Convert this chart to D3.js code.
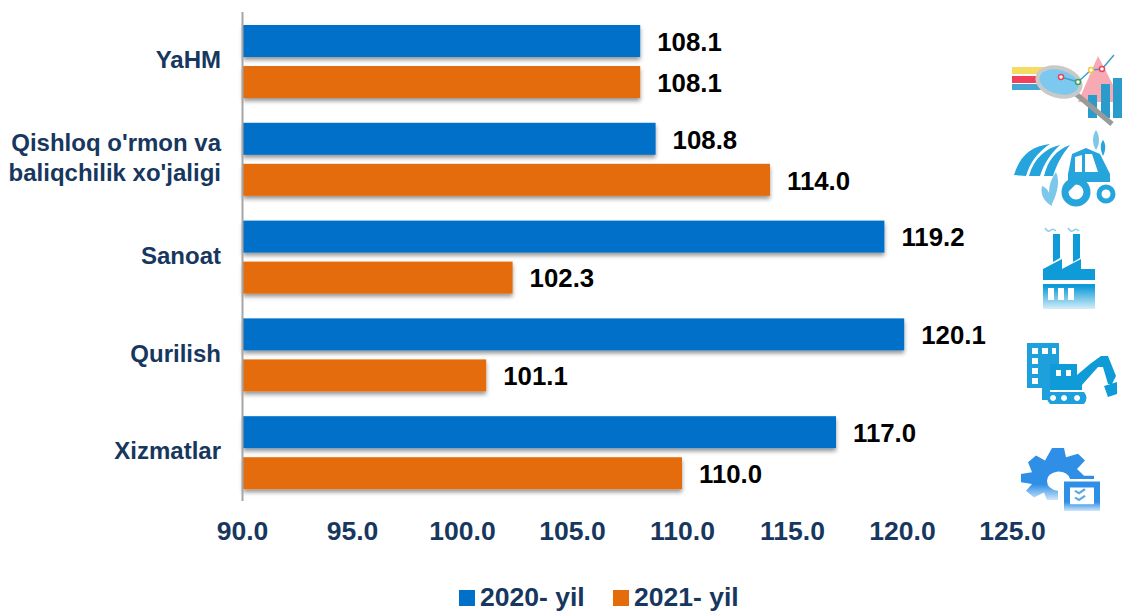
<!DOCTYPE html>
<html>
<head>
<meta charset="utf-8">
<script src="https://d3js.org/d3.v7.min.js"></script>
<style>
html, body { margin: 0; padding: 0; background: #fff; }
text { font-family: "Liberation Sans", Arial, sans-serif; font-weight: bold; }
</style>
</head>
<body>
<svg id="chart" width="1127" height="612"></svg>
<script>
const categories = ["YaHM", "Qishloq o'rmon va|baliqchilik xo'jaligi", "Sanoat", "Qurilish", "Xizmatlar"];
const values2020 = [108.1, 108.8, 119.2, 120.1, 117.0];
const values2021 = [108.1, 114.0, 102.3, 101.1, 110.0];
const seriesNames = ["2020- yil", "2021- yil"];
const seriesColors = ["#0070c8", "#e46c0a"];
const xTicks = [90, 95, 100, 105, 110, 115, 120, 125];

const svg = d3.select("#chart");
const navy = "#17375e";

const x = d3.scaleLinear().domain([90, 125]).range([242, 1012]);
const y = d3.scaleBand().domain(categories).range([12, 501]);
const inner = d3.scaleBand().domain([0, 1]).range([13, 86]).paddingInner(0.22);

const defs = svg.append("defs");

// soft shadow under the bars
const shadow = defs.append("filter").attr("id", "shadow")
    .attr("x", "-2%").attr("y", "-20%").attr("width", "104%").attr("height", "150%");
shadow.append("feDropShadow")
    .attr("dx", 0).attr("dy", 3).attr("stdDeviation", 2.2)
    .attr("flood-color", "#000").attr("flood-opacity", 0.42);

// icons fade out to white towards the bottom
function fade(id, top, bottom) {
    const g = defs.append("linearGradient").attr("id", id)
        .attr("x1", 0).attr("y1", 0).attr("x2", 0).attr("y2", 1);
    g.append("stop").attr("offset", "0%").attr("stop-color", top);
    g.append("stop").attr("offset", "70%").attr("stop-color", top);
    g.append("stop").attr("offset", "100%").attr("stop-color", bottom);
}
fade("fadeBlue", "#0f9bd7", "#d5eef9");
fade("fadeGear", "#2f8fe6", "#cfe6fa");

const rows = categories.map((c, i) => ({ cat: c, vals: [values2020[i], values2021[i]] }));

const row = svg.append("g").selectAll("g").data(rows).enter().append("g")
    .attr("transform", d => `translate(0,${y(d.cat)})`);

row.selectAll("rect").data(d => d.vals).enter().append("rect")
    .attr("x", x(90) + 1)
    .attr("y", (d, i) => inner(i))
    .attr("width", d => x(d) - x(90) - 1)
    .attr("height", inner.bandwidth())
    .attr("fill", (d, i) => seriesColors[i])
    .attr("filter", "url(#shadow)");

row.selectAll("text.val").data(d => d.vals).enter().append("text")
    .attr("class", "val")
    .attr("x", d => x(d) + 17)
    .attr("y", (d, i) => inner(i) + inner.bandwidth() / 2 + 0.5)
    .attr("dy", "0.36em")
    .attr("font-size", 25.8)
    .attr("fill", "#000")
    .text(d => d.toFixed(1));

// category labels, right aligned against the axis
row.each(function (d) {
    const lines = d.cat.split("|");
    const t = d3.select(this).append("text")
        .attr("text-anchor", "end")
        .attr("font-size", 24)
        .attr("fill", navy);
    lines.forEach((l, i) => {
        t.append("tspan")
            .attr("x", 221)
            .attr("y", 47.5 + (i - (lines.length - 1) / 2) * 30)
            .attr("dy", "0.36em")
            .text(l);
    });
});

const xAxis = svg.append("g")
    .attr("transform", "translate(0,501)")
    .call(d3.axisBottom(x).tickValues(xTicks).tickSize(0).tickPadding(20).tickFormat(d3.format(".1f")));
xAxis.select(".domain").remove();
xAxis.selectAll("text")
    .attr("font-size", 26.5)
    .attr("font-family", "Liberation Sans")
    .attr("font-weight", "bold")
    .attr("fill", navy);

svg.append("line")
    .attr("x1", 242.5).attr("x2", 242.5)
    .attr("y1", y.range()[0]).attr("y2", y.range()[1])
    .attr("stroke", "#a6a6a6").attr("stroke-width", 2);

// legend
const legendX = d3.scaleOrdinal().domain(seriesNames).range([459, 613]);
const legend = svg.append("g").selectAll("g").data(seriesNames).enter().append("g")
    .attr("transform", d => `translate(${legendX(d)},590)`);
legend.append("rect").attr("width", 16).attr("height", 16)
    .attr("fill", (d, i) => seriesColors[i]);
legend.append("text")
    .attr("x", 21).attr("y", 6).attr("dy", "0.36em")
    .attr("font-size", 26.5).attr("fill", navy)
    .text(d => d);

// icons down the right side
const icons = svg.append("g");

// magnifier over a bar chart
const ic1 = icons.append("g").attr("transform", "translate(990,40)");
ic1.append("path").attr("d", "M108 16 L132 62 L88 62 Z").attr("fill", "#f7a9b4");
ic1.append("rect").attr("x", 22).attr("y", 27).attr("width", 36).attr("height", 7).attr("fill", "#f4dc62");
ic1.append("rect").attr("x", 22).attr("y", 36).attr("width", 36).attr("height", 7).attr("fill", "#f2405a");
ic1.append("rect").attr("x", 22).attr("y", 44).attr("width", 36).attr("height", 6).attr("fill", "#45a6cf");
ic1.append("rect").attr("x", 98).attr("y", 55).attr("width", 9).attr("height", 23).attr("fill", "#2a9ccb");
ic1.append("rect").attr("x", 111).attr("y", 44).attr("width", 9).attr("height", 34).attr("fill", "#2a9ccb");
ic1.append("rect").attr("x", 123).attr("y", 38).attr("width", 9).attr("height", 40).attr("fill", "#2a9ccb");
ic1.append("path").attr("d", "M86 54 L122 84").attr("stroke", "#9a9a9a").attr("stroke-width", 5).attr("fill", "none");
ic1.append("ellipse").attr("cx", 69).attr("cy", 42).attr("rx", 22).attr("ry", 14)
    .attr("transform", "rotate(15 69 42)")
    .attr("fill", "#7cc8ee").attr("stroke", "#c9c9c9").attr("stroke-width", 4);
ic1.append("path").attr("d", "M71 37 L88 42 L101 30 L112 29 L124 15")
    .attr("stroke", "#3f9fc9").attr("stroke-width", 1.5).attr("fill", "none");
[[71, 37, "#e8455c"], [88, 42, "#3ca35a"], [101, 30, "#eccb3c"], [112, 29, "#e8455c"]].forEach(p => {
    ic1.append("circle").attr("cx", p[0]).attr("cy", p[1]).attr("r", 2.5)
        .attr("fill", "#fff").attr("stroke", p[2]).attr("stroke-width", 1.5);
});

// tractor and field
const ic2 = icons.append("g").attr("transform", "translate(990,130)").attr("fill", "#26a4dc");
ic2.append("path").attr("d", "M24 45 C30 25 42 16 60 14 C48 22 40 32 36 46 Z");
ic2.append("path").attr("d", "M39 46 C44 28 56 18 70 15 C60 24 54 34 50 46 Z");
ic2.append("path").attr("d", "M54 46 C58 30 66 20 80 15 C71 26 67 34 63 46 Z");
ic2.append("path").attr("fill-rule", "evenodd").attr("d", "M82 24 L96 18 L110 24 L120 44 L120 52 L88 52 L78 62 L78 44 Z M85 27 L85 42 L92 42 L92 25 Z M95 24 L95 42 L108 42 L102 24 Z");
ic2.append("circle").attr("cx", 86).attr("cy", 62).attr("r", 11).attr("fill", "none").attr("stroke", "#26a4dc").attr("stroke-width", 7);
ic2.append("circle").attr("cx", 116).attr("cy", 64).attr("r", 7).attr("fill", "none").attr("stroke", "#26a4dc").attr("stroke-width", 5);
ic2.append("path").attr("d", "M106 0 C110 6 110 14 106 20 C102 14 102 6 106 0 Z").attr("opacity", 0.6);
ic2.append("path").attr("d", "M113 10 C116 14 116 20 113 26 C110 20 110 14 113 10 Z");
ic2.append("path").attr("d", "M66 42 C70 50 68 62 62 74 C56 62 60 50 66 42 Z M52 56 C58 58 62 66 62 76 C54 72 50 64 52 56 Z").attr("opacity", 0.6);

// factory
icons.append("path").attr("transform", "translate(990,220)")
    .attr("fill", "url(#fadeBlue)").attr("fill-rule", "evenodd")
    .attr("d", "M63 14 L70 14 L70 38 L63 42 Z M83 14 L90 14 L90 38 L83 42 Z M53 49 L72 39 L72 49 L91 39 L91 49 L105 49 L105 60 L53 60 Z M53 64 L105 64 L105 89 L53 89 Z M58 68 L58 80 L64 80 L64 68 Z M68 68 L68 80 L74 80 L74 68 Z M78 68 L78 80 L84 80 L84 68 Z");
icons.append("path").attr("transform", "translate(990,220)")
    .attr("d", "M55 8 Q58 13 61 10 Q63 8 66 11 M78 8 Q81 13 84 10 Q86 8 89 11")
    .attr("fill", "none").attr("stroke", "#8fd0ee").attr("stroke-width", 1.5);

// buildings and excavator
const ic4 = icons.append("g").attr("transform", "translate(990,340)");
ic4.append("path").attr("fill", "#1ea0dc").attr("fill-rule", "evenodd")
    .attr("d", "M37 3 L69 3 L69 24 L60 24 L60 60 L52 60 L52 48 L37 48 Z M42 8 L42 14 L48 14 L48 8 Z M52 8 L52 14 L58 14 L58 8 Z M62 8 L62 14 L66 14 L66 8 Z M42 18 L42 24 L48 24 L48 18 Z M42 28 L42 34 L48 34 L48 28 Z M42 38 L42 44 L48 44 L48 38 Z");
ic4.append("path").attr("fill", "#0f9bd7").attr("fill-rule", "evenodd")
    .attr("d", "M60 24 L87 24 L87 35 L100 24 L111 16 L118 16 L126 36 L122 44 L118 44 L113 27 L108 27 L92 45 L92 50 L60 50 Z M66 30 L66 36 L71 36 L71 30 Z M76 30 L76 36 L81 36 L81 30 Z");
ic4.append("path").attr("fill", "#0f9bd7").attr("d", "M114 46 L127 42 L127 54 L118 57 Z");
ic4.append("path").attr("fill", "#1ea0dc").attr("fill-rule", "evenodd")
    .attr("d", "M60 52 L94 52 Q99 58 94 64 L60 64 Q54 58 60 52 Z M63 55 A3 3 0 1 0 63.1 55 Z M74 55 A3 3 0 1 0 74.1 55 Z M87 55 A3 3 0 1 0 87.1 55 Z");

// gear with checklist
const ic5 = icons.append("g").attr("transform", "translate(990,437) scale(1,0.84)");
ic5.append("path").attr("fill", "url(#fadeGear)").attr("fill-rule", "evenodd")
    .attr("d", "M62 13 L74 13 L76 24 L88 20 L95 28 L87 38 L94 46 L104 46 L104 50 L80 50 Q78 41 68 41 Q57 43 57 52 Q57 62 68 64 L68 75 L57 75 L54 66 L44 72 L36 64 L42 56 L31 54 L31 44 L42 42 L38 30 L46 22 L55 28 Z");
ic5.append("path").attr("fill", "url(#fadeGear)").attr("fill-rule", "evenodd")
    .attr("d", "M74 53 L110 53 L110 88 L74 88 Z M80 60 L80 80 L104 80 L104 60 Z");
ic5.append("path").attr("d", "M85 64 L89 67 L95 62 M85 72 L89 75 L95 70")
    .attr("fill", "none").attr("stroke", "#5aa7ea").attr("stroke-width", 2.5);
</script>
</body>
</html>
